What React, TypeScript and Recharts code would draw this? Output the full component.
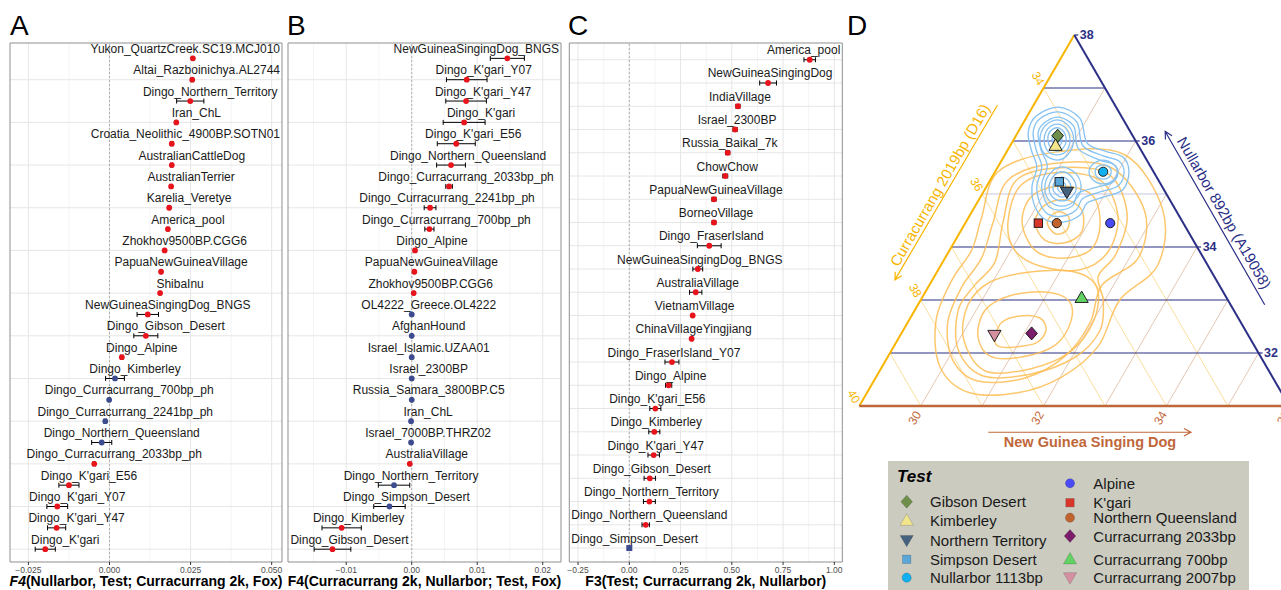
import React from 'react';
import { ScatterChart, Scatter, XAxis, YAxis, CartesianGrid, ReferenceLine, ReferenceArea, ErrorBar } from 'recharts';

const FONT = '"Liberation Sans", Arial, Helvetica, sans-serif';
const RED = '#E8141C';
const BLUE = '#3D4C8E';

// ---------------- Panel A ----------------
const aLabels = ['Yukon_QuartzCreek.SC19.MCJ010', 'Altai_Razboinichya.AL2744', 'Dingo_Northern_Territory', 'Iran_ChL', 'Croatia_Neolithic_4900BP.SOTN01', 'AustralianCattleDog', 'AustralianTerrier', 'Karelia_Veretye', 'America_pool', 'Zhokhov9500BP.CGG6', 'PapuaNewGuineaVillage', 'ShibaInu', 'NewGuineaSingingDog_BNGS', 'Dingo_Gibson_Desert', 'Dingo_Alpine', 'Dingo_Kimberley', 'Dingo_Curracurrang_700bp_ph', 'Dingo_Curracurrang_2241bp_ph', 'Dingo_Northern_Queensland', 'Dingo_Curracurrang_2033bp_ph', "Dingo_K'gari_E56", "Dingo_K'gari_Y07", "Dingo_K'gari_Y47", "Dingo_K'gari"];
const aValues = [0.0257, 0.0255, 0.0249, 0.0206, 0.0192, 0.0192, 0.0190, 0.0184, 0.0180, 0.0170, 0.0159, 0.0156, 0.0118, 0.0112, 0.0038, 0.0017, -0.0001, -0.0013, -0.0024, -0.0047, -0.0125, -0.0161, -0.0163, -0.0198];
const aErrors = [0.0003, 0.0003, 0.0042, 0.0003, 0.0004, 0.0003, 0.0003, 0.0003, 0.0003, 0.0003, 0.0002, 0.0002, 0.0033, 0.0037, 0.0004, 0.0029, 0.0003, 0.0004, 0.0031, 0.0004, 0.0031, 0.0032, 0.0028, 0.0031];
const aGroups = [1, 1, 1, 1, 1, 1, 1, 1, 1, 1, 1, 1, 1, 1, 1, 0, 0, 0, 0, 1, 1, 1, 1, 1];
const aTicks = [-0.025, 0, 0.025, 0.05];
const aMinor = [-0.0125, 0.0125, 0.0375];

// ---------------- Panel B ----------------
const bLabels = ['NewGuineaSingingDog_BNGS', "Dingo_K'gari_Y07", "Dingo_K'gari_Y47", "Dingo_K'gari", "Dingo_K'gari_E56", 'Dingo_Northern_Queensland', 'Dingo_Curracurrang_2033bp_ph', 'Dingo_Curracurrang_2241bp_ph', 'Dingo_Curracurrang_700bp_ph', 'Dingo_Alpine', 'PapuaNewGuineaVillage', 'Zhokhov9500BP.CGG6', 'OL4222_Greece.OL4222', 'AfghanHound', 'Israel_Islamic.UZAA01', 'Israel_2300BP', 'Russia_Samara_3800BP.C5', 'Iran_ChL', 'Israel_7000BP.THRZ02', 'AustraliaVillage', 'Dingo_Northern_Territory', 'Dingo_Simpson_Desert', 'Dingo_Kimberley', 'Dingo_Gibson_Desert'];
const bValues = [0.0146, 0.0084, 0.0083, 0.0080, 0.0068, 0.0060, 0.0057, 0.0028, 0.0027, 0.0005, 0.0004, 0.0003, 0.0, 0.0, 0.0, 0.0, 0.0, -0.0001, -0.0001, -0.0003, -0.0027, -0.0034, -0.0107, -0.0121];
const bErrors = [0.0026, 0.0031, 0.0031, 0.0032, 0.0029, 0.0022, 0.0005, 0.0009, 0.0007, 0.0002, 0.0001, 0.0001, 0.0001, 0.0001, 0.0001, 0.0001, 0.0001, 0.0001, 0.0001, 0.0001, 0.0024, 0.0024, 0.0030, 0.0028];
const bGroups = [1, 1, 1, 1, 1, 1, 1, 1, 1, 1, 1, 1, 0, 0, 0, 0, 0, 0, 0, 1, 0, 0, 1, 1];
const bTicks = [-0.01, 0, 0.01, 0.02];
const bMinor = [-0.015, -0.005, 0.005, 0.015];

// ---------------- Panel C ----------------
const cLabels = ['America_pool', 'NewGuineaSingingDog', 'IndiaVillage', 'Israel_2300BP', 'Russia_Baikal_7k', 'ChowChow', 'PapuaNewGuineaVillage', 'BorneoVillage', 'Dingo_FraserIsland', 'NewGuineaSingingDog_BNGS', 'AustraliaVillage', 'VietnamVillage', 'ChinaVillageYingjiang', 'Dingo_FraserIsland_Y07', 'Dingo_Alpine', "Dingo_K'gari_E56", 'Dingo_Kimberley', "Dingo_K'gari_Y47", 'Dingo_Gibson_Desert', 'Dingo_Northern_Territory', 'Dingo_Northern_Queensland', 'Dingo_Simpson_Desert'];
const cValues = [0.880, 0.677, 0.530, 0.516, 0.480, 0.468, 0.413, 0.413, 0.390, 0.334, 0.324, 0.309, 0.304, 0.208, 0.192, 0.127, 0.122, 0.119, 0.100, 0.098, 0.080, 0.0];
const cErrors = [0.028, 0.041, 0.010, 0.010, 0.010, 0.012, 0.010, 0.009, 0.058, 0.024, 0.030, 0.004, 0.004, 0.034, 0.015, 0.027, 0.027, 0.028, 0.028, 0.029, 0.018, 0.0];
const cGroups = [1, 1, 1, 1, 1, 1, 1, 1, 1, 1, 1, 1, 1, 1, 1, 1, 1, 1, 1, 1, 1, 2];
const cTicks = [-0.25, 0, 0.25, 0.5, 0.75, 1.0];
const cMinor = [-0.125, 0.125, 0.375, 0.625, 0.875];

// ---------------- Panel D (ternary) ----------------
const testNames = ['Gibson Desert', 'Kimberley', 'Northern Territory', 'Simpson Desert', 'Nullarbor 1113bp', 'Alpine', "K'gari", 'Northern Queensland', 'Curracurrang 2033bp', 'Curracurrang 700bp', 'Curracurrang 2007bp'];
const testNGSD = [29.68, 29.74, 30.36, 30.14, 30.76, 31.36, 30.19, 30.49, 31.12, 31.60, 30.53];
const testNullarbor = [36.10, 35.91, 35.04, 35.23, 35.42, 34.45, 34.45, 34.45, 32.37, 33.04, 32.34];
const testShapes = ['diamond', 'triUp', 'triDown', 'square', 'circle', 'circle', 'square', 'circle', 'diamond', 'triUp', 'triDown'];
const testColors = ['#6D8F4A', '#F1E68C', '#45627F', '#5AA6D8', '#12B0F0', '#4B4BF5', '#D9362B', '#C0632F', '#7A1E6B', '#63D163', '#D48FA1'];

// axis ranges of the ternary (percent)
const NGSD_MIN = 29;
const CURR_MIN = 33;
const NULL_MIN = 31;
const SPAN = 7;
const nullTicks = [32, 33, 34, 35, 36, 37];
const nullLabels = [32, 34, 36, 38];
const currGrid = [34, 35, 36, 37, 38, 39];
const currLabels = [34, 36, 38, 40];
const ngsdGrid = [30, 31, 32, 33, 34, 35];
const ngsdLabels = [30, 32, 34, 36];

// density contours, as [horizontal projection (NGSD + Nullarbor/2), Nullarbor]
const blueContours = [
  [[47.74, 36.64], [48.09, 36.43], [48.21, 35.96], [48.50, 35.81], [48.79, 35.70], [48.89, 35.42], [48.79, 35.08], [48.47, 34.94], [48.21, 34.83], [48.09, 34.60], [47.82, 34.47], [47.54, 34.51], [47.36, 34.76], [47.31, 35.13], [47.39, 35.51], [47.30, 35.83], [47.25, 36.17], [47.38, 36.47]],
  [[47.74, 36.55], [48.04, 36.36], [48.14, 35.91], [48.47, 35.72], [48.73, 35.62], [48.81, 35.40], [48.71, 35.15], [48.42, 35.04], [48.14, 34.92], [48.03, 34.70], [47.80, 34.58], [47.57, 34.62], [47.44, 34.83], [47.39, 35.15], [47.47, 35.51], [47.38, 35.83], [47.33, 36.17], [47.44, 36.42]],
  [[47.74, 36.45], [47.99, 36.28], [48.07, 35.85], [48.42, 35.64], [48.65, 35.55], [48.71, 35.38], [48.61, 35.21], [48.37, 35.13], [48.07, 35.02], [47.98, 34.79], [47.80, 34.70], [47.61, 34.74], [47.51, 34.92], [47.47, 35.19], [47.56, 35.53], [47.46, 35.83], [47.41, 36.15], [47.51, 36.34]],
  [[47.72, 36.40], [47.91, 36.28], [47.99, 36.02], [47.90, 35.75], [47.72, 35.64], [47.52, 35.75], [47.44, 36.02], [47.52, 36.28]],
  [[47.72, 36.32], [47.87, 36.23], [47.93, 36.02], [47.87, 35.81], [47.72, 35.74], [47.57, 35.81], [47.51, 36.02], [47.57, 36.23]],
  [[47.72, 36.25], [47.83, 36.17], [47.87, 36.02], [47.82, 35.87], [47.72, 35.81], [47.62, 35.87], [47.57, 36.02], [47.60, 36.17]],
  [[47.72, 36.17], [47.78, 36.11], [47.80, 36.02], [47.77, 35.92], [47.72, 35.89], [47.67, 35.92], [47.64, 36.02], [47.65, 36.11]],
  [[47.72, 36.11], [47.75, 36.08], [47.77, 36.02], [47.75, 35.98], [47.72, 35.96], [47.69, 35.98], [47.67, 36.02], [47.69, 36.08]],
  [[47.80, 35.51], [48.03, 35.38], [48.11, 35.11], [48.00, 34.87], [47.80, 34.77], [47.60, 34.87], [47.52, 35.11], [47.60, 35.38]],
  [[47.80, 35.42], [47.96, 35.32], [48.03, 35.11], [47.95, 34.94], [47.80, 34.87], [47.65, 34.94], [47.59, 35.11], [47.65, 35.32]],
  [[47.80, 35.32], [47.90, 35.26], [47.95, 35.11], [47.90, 35.00], [47.80, 34.94], [47.70, 35.00], [47.65, 35.11], [47.70, 35.26]],
  [[47.80, 35.23], [47.85, 35.19], [47.86, 35.11], [47.85, 35.06], [47.80, 35.02], [47.75, 35.06], [47.73, 35.11], [47.75, 35.19]],
  [[48.47, 35.64], [48.63, 35.57], [48.70, 35.42], [48.63, 35.26], [48.47, 35.19], [48.31, 35.26], [48.24, 35.42], [48.31, 35.57]],
  [[48.47, 35.55], [48.57, 35.51], [48.60, 35.42], [48.57, 35.32], [48.47, 35.28], [48.37, 35.32], [48.34, 35.42], [48.37, 35.51]],
];
const orangeContours = [
  [[47.56, 34.47], [47.72, 34.66], [47.91, 34.57], [47.88, 34.32], [47.69, 34.25]],
  [[47.36, 34.47], [47.52, 34.79], [47.85, 34.89], [48.12, 34.70], [48.12, 34.28], [47.85, 34.08], [47.52, 34.13]],
  [[47.15, 34.47], [47.31, 34.96], [47.77, 35.15], [48.29, 34.98], [48.42, 34.42], [48.26, 33.94], [47.80, 33.79], [47.36, 33.94]],
  [[46.92, 34.47], [47.12, 35.15], [47.69, 35.40], [48.42, 35.26], [48.71, 34.60], [48.55, 33.91], [48.09, 33.57], [47.44, 33.64], [47.03, 33.94]],
  [[46.71, 32.28], [46.82, 32.58], [47.12, 32.70], [47.44, 32.66], [47.54, 32.43], [47.38, 32.19], [47.00, 32.11], [46.76, 32.13]],
  [[46.43, 32.32], [46.55, 32.81], [46.95, 33.08], [47.52, 33.15], [47.90, 33.00], [47.95, 32.62], [47.69, 32.15], [47.12, 31.92], [46.63, 31.94]],
  [[46.20, 32.25], [46.27, 32.91], [46.63, 33.34], [47.28, 33.53], [48.01, 33.53], [48.37, 33.23], [48.32, 32.62], [47.93, 32.02], [47.28, 31.70], [46.55, 31.66]],
  [[46.84, 34.47], [47.05, 35.25], [47.69, 35.49], [48.55, 35.38], [48.86, 34.62], [48.68, 33.87], [48.39, 33.45], [48.47, 33.00], [48.42, 32.43], [48.01, 31.92], [47.28, 31.60], [46.51, 31.57], [46.11, 32.06], [46.11, 32.81], [46.38, 33.28], [46.71, 33.72]],
  [[46.68, 34.47], [46.92, 35.26], [47.69, 35.58], [48.61, 35.49], [49.15, 34.66], [49.04, 33.79], [48.45, 33.28], [48.26, 32.58], [47.85, 31.94], [47.20, 31.53], [46.43, 31.47], [46.02, 31.87], [45.94, 32.58], [46.17, 33.25], [46.49, 33.79]],
  [[46.49, 34.55], [46.76, 35.42], [47.69, 35.79], [48.82, 35.74], [49.44, 34.70], [49.36, 33.66], [48.74, 33.00], [48.39, 32.13], [47.80, 31.55], [47.08, 31.25], [46.27, 31.26], [45.81, 31.75], [45.75, 32.62], [46.01, 33.38], [46.33, 33.94]],
];

// ---------------- helpers ----------------
let measureCtx: any = null;
function textWidth(s: string, size: number) {
  if (!measureCtx) {
    try {
      const c = document.createElement('canvas');
      measureCtx = c.getContext('2d');
    } catch (e) {
      measureCtx = null;
    }
  }
  if (!measureCtx) return s.length * size * 0.55;
  measureCtx.font = `${size}px "Liberation Sans", Arial, sans-serif`;
  return measureCtx.measureText(s).width;
}

const noShape = () => <g />;

function smoothClosed(context: any) {
  let pts: number[][] = [];
  return {
    areaStart() {},
    areaEnd() {},
    lineStart() { pts = []; },
    point(x: number, y: number) { pts.push([+x, +y]); },
    lineEnd() {
      const n = pts.length;
      if (!n) return;
      context.moveTo(pts[0][0], pts[0][1]);
      const t = 1 / 6;
      for (let i = 0; i < n; i++) {
        const p0 = pts[(i - 1 + n) % n], p1 = pts[i], p2 = pts[(i + 1) % n], p3 = pts[(i + 2) % n];
        context.bezierCurveTo(
          p1[0] + (p2[0] - p0[0]) * t, p1[1] + (p2[1] - p0[1]) * t,
          p2[0] - (p3[0] - p1[0]) * t, p2[1] - (p3[1] - p1[1]) * t,
          p2[0], p2[1]
        );
      }
      context.closePath();
    },
  };
}

function marker(type: string, cx: number, cy: number, fill: string, stroke: string, sw: number, s = 1) {
  if (type === 'circle') return <circle cx={cx} cy={cy} r={4.6 * s} fill={fill} stroke={stroke} strokeWidth={sw} />;
  if (type === 'square') return <rect x={cx - 4.2 * s} y={cy - 4.2 * s} width={8.4 * s} height={8.4 * s} fill={fill} stroke={stroke} strokeWidth={sw} />;
  let pts: number[][] = [];
  if (type === 'diamond') pts = [[0, -6.5], [5.8, 0], [0, 6.5], [-5.8, 0]];
  if (type === 'triUp') pts = [[0, -6.8], [6.6, 4.6], [-6.6, 4.6]];
  if (type === 'triDown') pts = [[0, 6.8], [6.6, -4.6], [-6.6, -4.6]];
  return <polygon points={pts.map(p => `${cx + p[0] * s},${cy + p[1] * s}`).join(' ')} fill={fill} stroke={stroke} strokeWidth={sw} />;
}

const fmt3 = (v: number) => (v < 0 ? '\u2212' : '') + Math.abs(v).toFixed(3);
const fmt2 = (v: number) => (v < 0 ? '\u2212' : '') + Math.abs(v).toFixed(2);

// ---------------- dot panels ----------------
function DotPanel(props: any) {
  const { left, width, mLeft, mRight, labels, values, errors, groups, xDomain, majors, minors, fmt, title, shift } = props;
  const n = labels.length;
  const rows = labels.map((name: string, i: number) => ({ x: values[i], y: i + 1, err: errors[i], name, g: groups[i] }));
  const yDomain = [0.28, n + 0.6];
  const rowTicks = rows.map((r: any) => r.y);
  const plotL = mLeft;
  const plotR = width - mRight;
  const labelShape = (p: any) => {
    const { cx, cy, payload } = p;
    const w = textWidth(payload.name, 12);
    let c = cx + shift;
    c = Math.min(c, plotR - 2 - w / 2);
    c = Math.max(c, plotL + 2 + w / 2);
    return <text x={c} y={cy - 5.5} textAnchor="middle" fontSize={12} fill="#1A1A1A" fontFamily={FONT}>{payload.name}</text>;
  };
  const dotShape = (p: any) => {
    const { cx, cy, payload } = p;
    const fill = payload.g === 1 ? RED : BLUE;
    return payload.g === 2
      ? <rect x={cx - 3} y={cy - 3} width={6} height={6} fill={BLUE} />
      : <circle cx={cx} cy={cy} r={2.9} fill={fill} />;
  };
  const cxTitle = plotL + (plotR - plotL) / 2;
  return (
    <div style={{ position: 'absolute', left, top: 0 }}>
      <ScatterChart width={width} height={590} margin={{ top: 43, right: mRight, bottom: 0, left: mLeft }}>
        <CartesianGrid stroke="#F1F1F1" strokeWidth={0.8} horizontal={false} verticalValues={minors} />
        <CartesianGrid stroke="#E6E6E6" strokeWidth={1} horizontalValues={rowTicks} verticalValues={majors} />
        <XAxis
          type="number"
          dataKey="x"
          domain={xDomain}
          ticks={majors}
          interval={0}
          tickFormatter={fmt}
          axisLine={false}
          tickLine={{ stroke: '#333333', strokeWidth: 1 }}
          tickSize={3}
          tickMargin={1.5}
          tick={{ fontSize: 8.5, fill: '#4D4D4D', fontFamily: FONT }}
          height={28}
          label={{ content: () => title(cxTitle) }}
        />
        <YAxis type="number" dataKey="y" domain={yDomain} reversed hide ticks={rowTicks} width={0} />
        <ReferenceLine x={0} stroke="#A0A0A0" strokeWidth={0.8} strokeDasharray="2 2" />
        <Scatter data={rows} shape={labelShape} isAnimationActive={false}>
          <ErrorBar dataKey="err" direction="x" width={2.5} stroke="#000000" strokeWidth={1} />
        </Scatter>
        <Scatter data={rows} shape={dotShape} isAnimationActive={false} />
        <ReferenceArea x1={xDomain[0]} x2={xDomain[1]} y1={yDomain[0]} y2={yDomain[1]} fill="none" fillOpacity={0} stroke="#8F8F8F" strokeWidth={1} ifOverflow="visible" />
      </ScatterChart>
    </div>
  );
}

const titleText = (cx: number, content: any) => (
  <text x={cx} y={586} textAnchor="middle" fontSize={14} fontWeight="bold" fontFamily={FONT} fill="#000000">{content}</text>
);

// ---------------- ternary panel ----------------
const PX_X = 61.43;
const PX_Y = 53;
const tern = (g: number, n: number) => ({ x: g + n / 2, y: n });

function arrowPts(tail: number[], tip: number[]) {
  const dxp = (tip[0] - tail[0]) * PX_X;
  const dyp = -(tip[1] - tail[1]) * PX_Y;
  const len = Math.sqrt(dxp * dxp + dyp * dyp);
  const bx = -dxp / len, by = -dyp / len;
  const head = (ang: number) => {
    const a = (ang * Math.PI) / 180;
    const rx = bx * Math.cos(a) - by * Math.sin(a);
    const ry = bx * Math.sin(a) + by * Math.cos(a);
    return { x: tip[0] + (rx * 8) / PX_X, y: tip[1] - (ry * 8) / PX_Y };
  };
  const t = { x: tip[0], y: tip[1] };
  return [{ x: tail[0], y: tail[1] }, t, head(28), t, head(-28)];
}

function Ternary() {
  const NAVY = '#2B2F86';
  const YEL = '#F7B500';
  const BROWN = '#C0673A';
  const segs: any[] = [];
  ngsdGrid.forEach(g => segs.push({ pts: [tern(g, NULL_MIN), tern(g, 100 - CURR_MIN - g)], stroke: '#D4A17E', w: 0.6 }));
  currGrid.forEach(c => segs.push({ pts: [tern(NGSD_MIN, 100 - c - NGSD_MIN), tern(100 - c - NULL_MIN, NULL_MIN)], stroke: '#F7C95A', w: 0.6 }));
  nullTicks.forEach(n => segs.push({ pts: [tern(NGSD_MIN, n), tern(100 - CURR_MIN - n, n)], stroke: n === 35 ? '#C3C5E6' : NAVY, w: 1.2 }));
  const top = NULL_MIN + SPAN;
  const edges = [
    { pts: [tern(NGSD_MIN, NULL_MIN), tern(NGSD_MIN, top)], stroke: YEL, w: 2 },
    { pts: [tern(NGSD_MIN, top), tern(NGSD_MIN + SPAN, NULL_MIN)], stroke: NAVY, w: 2 },
    { pts: [tern(NGSD_MIN, NULL_MIN), tern(NGSD_MIN + SPAN, NULL_MIN)], stroke: BROWN, w: 2.5 },
  ];
  const arrows = [
    { pts: arrowPts([46.60, 30.505], [49.90, 30.505]), stroke: BROWN },
    { pts: arrowPts([46.75, 36.68], [45.08, 33.38]), stroke: YEL },
    { pts: arrowPts([51.10, 32.91], [49.48, 36.18]), stroke: NAVY },
  ];
  const nullLab = nullLabels.map(n => ({ ...tern(100 - CURR_MIN - n, n), text: String(n) }));
  const currLab = currLabels.map(c => ({ ...tern(NGSD_MIN, 100 - c - NGSD_MIN), text: String(c) }));
  const ngsdLab = ngsdLabels.map(g => ({ ...tern(g, NULL_MIN), text: String(g) }));
  const textShape = (o: any) => (p: any) => {
    const x = p.cx + (o.dx || 0), y = p.cy + (o.dy || 0);
    return (
      <g>
        {o.tick ? <line x1={p.cx} y1={p.cy} x2={p.cx + 4} y2={p.cy} stroke={o.color} strokeWidth={1.2} /> : null}
        <text x={x} y={y} textAnchor={o.anchor || 'middle'} dominantBaseline="central" fontSize={o.size} fontWeight={o.weight || 'normal'} fill={o.color} fontFamily={FONT} transform={o.angle ? `rotate(${o.angle} ${x} ${y})` : undefined}>{p.payload.text}</text>
      </g>
    );
  };
  const points = testNames.map((name, i) => ({ ...tern(testNGSD[i], testNullarbor[i]), name, shape: testShapes[i], color: testColors[i] }));
  const markerShape = (p: any) => marker(p.payload.shape, p.cx, p.cy, p.payload.color, '#111111', 0.9);
  return (
    <div style={{ position: 'absolute', left: 830, top: 0 }}>
      <ScatterChart width={480} height={470} margin={{ top: 3.2, right: 8.43, bottom: 5.7, left: 10.87 }}>
        <XAxis type="number" dataKey="x" domain={[44.2, 51.7]} hide />
        <YAxis type="number" dataKey="y" domain={[29.9, 38.6]} hide />
        {segs.map((s, i) => (
          <Scatter key={'g' + i} data={s.pts} line={{ stroke: s.stroke, strokeWidth: s.w }} shape={noShape} isAnimationActive={false} />
        ))}
        {orangeContours.map((c, i) => (
          <Scatter key={'o' + i} data={c.map(p => ({ x: p[0], y: p[1] }))} line={{ stroke: '#FDBD55', strokeWidth: 1.5, strokeOpacity: 0.85 }} lineJointType={smoothClosed as any} shape={noShape} isAnimationActive={false} />
        ))}
        {blueContours.map((c, i) => (
          <Scatter key={'b' + i} data={c.map(p => ({ x: p[0], y: p[1] }))} line={{ stroke: '#86C2F2', strokeWidth: 1.3 }} lineJointType={smoothClosed as any} shape={noShape} isAnimationActive={false} />
        ))}
        {edges.map((s, i) => (
          <Scatter key={'e' + i} data={s.pts} line={{ stroke: s.stroke, strokeWidth: s.w }} shape={noShape} isAnimationActive={false} />
        ))}
        {arrows.map((s, i) => (
          <Scatter key={'a' + i} data={s.pts} line={{ stroke: s.stroke, strokeWidth: 1.2 }} shape={noShape} isAnimationActive={false} />
        ))}
        <Scatter data={points} shape={markerShape} isAnimationActive={false} />
        <Scatter data={nullLab} shape={textShape({ dx: 5.5, anchor: 'start', size: 12.5, weight: 'bold', color: NAVY, tick: true })} isAnimationActive={false} />
        <Scatter data={currLab} shape={textShape({ dx: -5.5, dy: -9.5, size: 12, color: YEL, angle: 60 })} isAnimationActive={false} />
        <Scatter data={ngsdLab} shape={textShape({ dx: -6, dy: 12, size: 12, color: BROWN, angle: -60 })} isAnimationActive={false} />
        <Scatter data={[{ x: 48.256, y: 30.32, text: 'New Guinea Singing Dog' }]} shape={textShape({ size: 14.5, weight: 'bold', color: BROWN })} isAnimationActive={false} />
        <Scatter data={[{ x: 45.81, y: 35.17, text: 'Curracurrang 2019bp (D16)' }]} shape={textShape({ size: 15, color: YEL, angle: -60 })} isAnimationActive={false} />
        <Scatter data={[{ x: 50.445, y: 34.645, text: 'Nullarbor 892bp (A19058)' }]} shape={textShape({ size: 15, color: NAVY, angle: 60 })} isAnimationActive={false} />
      </ScatterChart>
    </div>
  );
}

const legendLeftY = [40.7, 59.7, 79, 98.3, 116.7];
const legendRightY = [22.3, 41.7, 56.7, 75, 98.3, 116.3];

function TernLegend() {
  return (
    <div style={{ position: 'absolute', left: 888, top: 461, width: 361, height: 129, background: '#CBCBC0' }}>
      <svg width={361} height={129} style={{ display: 'block' }}>
        <text x={9} y={21} fontSize={17} fontWeight="bold" fontStyle="italic" fontFamily={FONT} fill="#000">Test</text>
        {testNames.map((name, i) => {
          const left = i < 5;
          const y = left ? legendLeftY[i] : legendRightY[i - 5];
          const sx = left ? 18.7 : 182;
          const tx = left ? 42 : 205.3;
          return (
            <g key={name}>
              {marker(testShapes[i], sx, y, testColors[i], 'rgba(0,0,0,0.25)', 0.6, 1)}
              <text x={tx} y={y} dominantBaseline="central" fontSize={15} fontFamily={FONT} fill="#1A1A1A">{name}</text>
            </g>
          );
        })}
      </svg>
    </div>
  );
}

export default function App() {
  return (
    <div style={{ position: 'absolute', left: 0, top: 0, width: 1281, height: 590, overflow: 'hidden', background: '#FFFFFF', fontFamily: FONT }}>
      <DotPanel
        left={0} width={290} mLeft={10} mRight={8}
        labels={aLabels} values={aValues} errors={aErrors} groups={aGroups}
        xDomain={[-0.03067, 0.05318]} majors={aTicks} minors={aMinor} fmt={fmt3} shift={20}
        title={(cx: number) => titleText(cx, <><tspan fontStyle="italic">F4</tspan>(Nullarbor, Test; Curracurrang 2k, Fox)</>)}
      />
      <DotPanel
        left={284} width={285} mLeft={4} mRight={8}
        labels={bLabels} values={bValues} errors={bErrors} groups={bGroups}
        xDomain={[-0.01889, 0.02279]} majors={bTicks} minors={bMinor} fmt={fmt2} shift={17}
        title={(cx: number) => titleText(cx, 'F4(Curracurrang 2k, Nullarbor; Test, Fox)')}
      />
      <DotPanel
        left={565} width={285} mLeft={4.3} mRight={7.7}
        labels={cLabels} values={cValues} errors={cErrors} groups={cGroups}
        xDomain={[-0.2927, 1.039]} majors={cTicks} minors={cMinor} fmt={fmt2} shift={2}
        title={(cx: number) => titleText(cx, 'F3(Test; Curracurrang 2k, Nullarbor)')}
      />
      <Ternary />
      <TernLegend />
      <svg width={1281} height={40} style={{ position: 'absolute', left: 0, top: 0, pointerEvents: 'none' }}>
        <text x={10} y={35} fontSize={28} fontFamily={FONT} fill="#000">A</text>
        <text x={287} y={35} fontSize={28} fontFamily={FONT} fill="#000">B</text>
        <text x={568} y={35} fontSize={28} fontFamily={FONT} fill="#000">C</text>
        <text x={847} y={35} fontSize={28} fontFamily={FONT} fill="#000">D</text>
      </svg>
    </div>
  );
}
